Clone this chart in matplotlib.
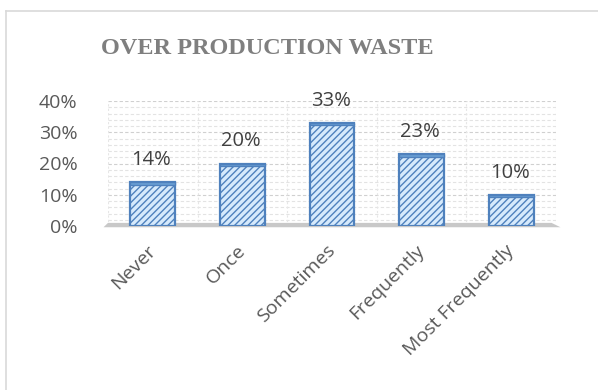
import matplotlib
matplotlib.use("Agg")
import matplotlib.pyplot as plt
from matplotlib.patches import Polygon
from matplotlib.lines import Line2D
import matplotlib.transforms as mtransforms
import numpy as np

categories = ["Never", "Once", "Sometimes", "Frequently", "Most Frequently"]
values = [14, 20, 33, 23, 10]
yticks = [0, 10, 20, 30, 40]
ytick_labels = ["0%", "10%", "20%", "30%", "40%"]
title = "OVER PRODUCTION WASTE"

plt.rcParams['hatch.linewidth'] = 1.0
plt.rcParams['font.family'] = ['Open Sans', 'DejaVu Sans']

W, H = 598, 390
fig = plt.figure(figsize=(W / 100, H / 100), dpi=100)
fig.patch.set_facecolor('white')

# chart frame (left and top edges visible)
fig.add_artist(Line2D([6 / W, 6 / W], [0, 1 - 11 / H], color='#d9d9d9', lw=1.2))
fig.add_artist(Line2D([6 / W, 1], [1 - 11 / H, 1 - 11 / H], color='#d9d9d9', lw=1.2))

left, right = 108, 556
bottom, top = 226, 101
ax = fig.add_axes([left / W, 1 - bottom / H, (right - left) / W, (bottom - top) / H])
ax.set_xlim(-0.5, 4.5)
ax.set_ylim(0, 40)
for s in ax.spines.values():
    s.set_visible(False)

# gridlines
for y in np.arange(2, 41, 2):
    ax.axhline(y, color='#e3e3e3' if y % 10 else '#d0d0d0', lw=0.8,
               ls=(0, (3, 2)), zorder=0)
for x in np.arange(-0.5, 4.6, 1.0):
    ax.axvline(x, color='#e6e6e6', lw=0.8, ls=(0, (2, 2)), zorder=0)

# floor
floor = Polygon([(-0.01, -0.01), (1.01, -0.01), (0.99, 0.025), (0.0, 0.025)],
                closed=True, transform=ax.transAxes, facecolor='#c8c8c8',
                edgecolor='none', zorder=1, clip_on=False)
ax.add_patch(floor)

x = np.arange(len(categories))
bars = ax.bar(x, values, width=0.5, color='#d6eafc', edgecolor='#4f81bd',
              hatch='/////', linewidth=1.6, zorder=3)
# darker top caps for 3D feel
ax.bar(x, [0.8] * len(values), bottom=np.array(values) - 0.8, width=0.5,
       color='#6a9fd4', edgecolor='#4f81bd', linewidth=1.0, zorder=4)

for xi, v in zip(x, values):
    ax.annotate(f"{v}%", (xi, v), xytext=(-1, 16), textcoords='offset points',
                ha='center', va='center', fontsize=14.5, color='#404040')

ax.set_yticks(yticks)
ax.set_yticklabels(ytick_labels, fontsize=14, color='#595959')
ax.tick_params(axis='y', length=0, pad=22)
ax.set_xticks(x)
ax.set_xticklabels(categories, rotation=45, ha='right', rotation_mode='anchor',
                   fontsize=14, color='#595959')
ax.tick_params(axis='x', length=0, pad=11)
offset = mtransforms.ScaledTranslation(-6 / 100, 0, fig.dpi_scale_trans)
for lbl in ax.get_xticklabels():
    lbl.set_transform(lbl.get_transform() + offset)

fig.text(267 / W, 1 - 49 / H, title, ha='center', va='center',
         family='Liberation Serif', fontweight='bold', fontsize=17.5,
         color='#7f7f7f')

fig.savefig('out.png', dpi=100, facecolor='white')
